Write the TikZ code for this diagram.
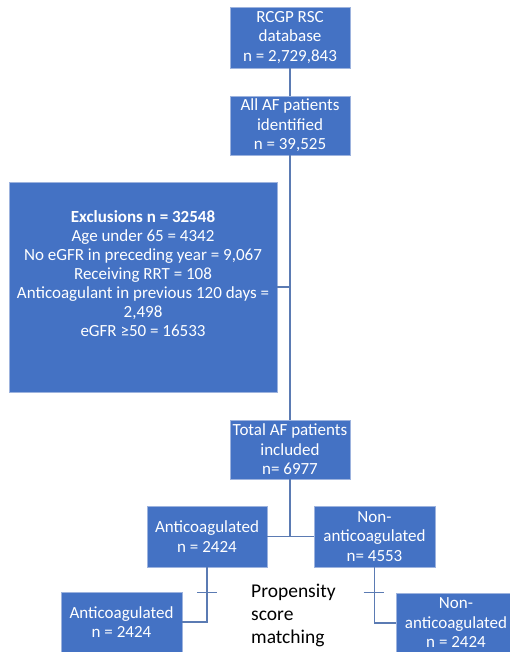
\documentclass[tikz,border=0pt]{standalone}
\usepackage{fontspec}
\setmainfont{Carlito}
\definecolor{boxblue}{HTML}{4472C4}
\definecolor{boxedge}{HTML}{9DB3DE}
\definecolor{linkblue}{HTML}{5B7BB3}
\begin{document}
\begin{tikzpicture}[x=1pt,y=-1pt,
  box/.style={draw=boxedge,line width=0.8pt,fill=boxblue,text=white,align=center,
    inner sep=0pt,font=\fontsize{17}{19.5}\selectfont},
  link/.style={draw=linkblue,line width=1.6pt}]
\useasboundingbox (0,0) rectangle (509,652);
\node[box,minimum width=120,minimum height=61] (db) at (290,37.5) {RCGP RSC\\database\\n = 2,729,843};
\node[box,minimum width=120,minimum height=59] (af) at (290,125.5) {All AF patients\\identified\\n = 39,525};
\node[box,minimum width=268,minimum height=210] (excl) at (143,287) {};
\node[text=white,align=center,inner sep=0pt,font=\fontsize{17}{18.9}\selectfont] (excltext) at (143,273.5)
  {\textbf{Exclusions n = 32548}\\Age under 65 = 4342\\No eGFR in preceding year = 9,067\\Receiving RRT = 108\\Anticoagulant in previous 120 days =\\2,498\\eGFR ≥50 = 16533};
\node[box,minimum width=120,minimum height=59] (total) at (290,449.5) {Total AF patients\\included\\n= 6977};
\node[box,minimum width=120,minimum height=61] (ac) at (207,536.5) {Anticoagulated\\n = 2424};
\node[box,minimum width=121,minimum height=61] (nac) at (374.5,536.5) {Non-\\anticoagulated\\n= 4553};
\node[box,minimum width=121,minimum height=60] (ac2) at (121.5,622) {Anticoagulated\\n = 2424};
\node[box,minimum width=120,minimum height=60] (nac2) at (456,623) {Non-\\anticoagulated\\n = 2424};
\node[anchor=west,align=left,inner sep=0pt,font=\fontsize{19.5}{23}\selectfont] (psm) at (251,615)
  {Propensity\\score\\matching};
\coordinate (split) at (total.south |- ac.east);
\draw[link] (db) -- (af);
\draw[link] (af) -- (total);
\draw[link] (excl.east) -- (excl.east -| af.south);
\draw[link] (total) -- (split);
\draw[link] (ac) -- (nac);
\draw[link] (ac.south) |- (ac2.east);
\draw[link] (nac.south) |- (nac2.west);
\coordinate (t1) at ([yshift=-25pt]ac.south);
\coordinate (t2) at ([yshift=-25pt]nac.south);
\draw[link] ([xshift=-10pt]t1) -- ([xshift=10pt]t1);
\draw[link] ([xshift=-11pt]t2) -- ([xshift=9pt]t2);
\end{tikzpicture}
\end{document}
